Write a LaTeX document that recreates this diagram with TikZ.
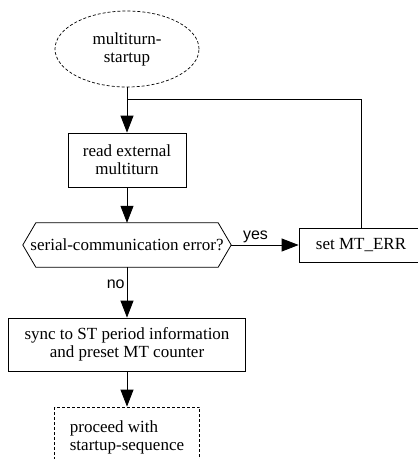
\documentclass[tikz,border=0pt]{standalone}
\usepackage{fontspec}
\setmainfont{Liberation Serif}
\newfontfamily\labelfont{Liberation Sans}
\usetikzlibrary{shapes.geometric, arrows.meta, calc}

\begin{document}
\begin{tikzpicture}[x=1pt, y=-1pt,
    every node/.style={font=\fontsize{17}{18}\selectfont},
    process/.style={draw, rectangle, inner sep=0pt, line width=0.8pt, align=center},
    terminal/.style={draw, ellipse, dash pattern=on 3pt off 2pt, inner sep=0pt, line width=0.7pt, align=center},
    flow/.style={line width=0.8pt, -{Triangle[length=17pt, width=13pt]}},
    branch/.style={font=\labelfont\fontsize{16}{18}\selectfont, inner sep=2pt}]
    \useasboundingbox (0,0) rectangle (418,459);
    \clip (0,0) rectangle (418,459);

    % Start of the multiturn sequence
    \node[terminal, minimum width=144pt, minimum height=76pt] (start) at (127,49) {multiturn-\\startup};
    \coordinate (join) at (127,99);

    % Read and check
    \node[process, minimum width=118pt, minimum height=54pt] (read) at (127,160) {read external\\multiturn};
    \node[minimum width=208pt, minimum height=44pt, inner sep=0pt] (check) at (127,245) {serial-communication error?};
    \draw[line width=0.8pt] (check.west) -- ($(check.north west)+(13,0)$) -- ($(check.north east)+(-13,0)$)
        -- (check.east) -- ($(check.south east)+(-13,0)$) -- ($(check.south west)+(13,0)$) -- cycle;

    % Error branch
    \node[process, minimum width=124pt, minimum height=34pt] (seterr) at (361,245) {set MT\_ERR};

    % Sync and continue
    \node[process, minimum width=237pt, minimum height=53pt] (sync) at (127,344.5) {sync to ST period information\\and preset MT counter};
    \node[process, dash pattern=on 3pt off 2pt, align=left, minimum width=145pt, minimum height=60pt] (proceed) at (127,437) {proceed with\\startup-sequence};

    % Connectors
    \draw[line width=0.8pt] (start.south) -- (join);
    \draw[line width=0.8pt] (seterr.north) |- (join);
    \draw[flow] (join) -- (read);
    \draw[flow] (read) -- (check);
    \draw[flow] (check.east) -- node[branch, above, pos=0.36] {yes} (seterr.west);
    \draw[flow] (check) -- node[branch, left, pos=0.33] {no} (sync);
    \draw[flow] (sync) -- (proceed);
\end{tikzpicture}
\end{document}
